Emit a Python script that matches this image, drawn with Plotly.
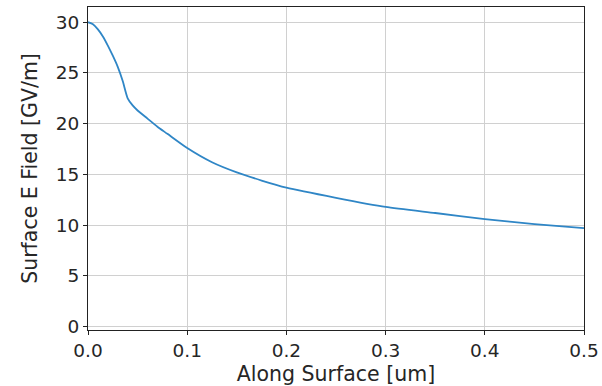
import plotly.graph_objects as go

along_surface_um = [0, 0.005, 0.01, 0.015, 0.02, 0.025, 0.03, 0.035, 0.04, 0.045, 0.05,
                    0.06, 0.07, 0.08, 0.1, 0.125, 0.15, 0.175, 0.2, 0.25, 0.3, 0.35,
                    0.4, 0.45, 0.5]
surface_e_field = [30.0, 29.8, 29.3, 28.6, 27.7, 26.7, 25.6, 24.2, 22.5, 21.8, 21.3,
                   20.5, 19.7, 19.0, 17.6, 16.2, 15.2, 14.4, 13.7, 12.7, 11.8, 11.2,
                   10.6, 10.1, 9.7]
x_ticks = [0.0, 0.1, 0.2, 0.3, 0.4, 0.5]
x_tick_labels = ["0.0", "0.1", "0.2", "0.3", "0.4", "0.5"]
y_ticks = [0, 5, 10, 15, 20, 25, 30]

tick_font = dict(family="DejaVu Sans", size=18.5, color="#262626")
title_font = dict(family="DejaVu Sans", size=20.5, color="#262626")

fig = go.Figure()
fig.add_trace(go.Scatter(x=along_surface_um, y=surface_e_field, mode="lines",
                         line=dict(color="#2f86c6", width=1.8, shape="spline", smoothing=0.6)))

fig.update_layout(
    width=602, height=386,
    margin=dict(l=88, r=18, t=7, b=56),
    paper_bgcolor="white", plot_bgcolor="white",
    showlegend=False, font=tick_font,
)
fig.update_xaxes(
    range=[0, 0.5], tickvals=x_ticks, ticktext=x_tick_labels, automargin=False,
    tickfont=tick_font,
    showgrid=True, gridcolor="#d0d0d0", gridwidth=1, zeroline=False,
    showline=True, linecolor="#222222", linewidth=1.2, mirror=True,
    ticks="outside", ticklen=4, tickcolor="#222222",
    title=dict(text="Along Surface [um]", standoff=11, font=title_font),
)
fig.update_yaxes(
    range=[-0.33, 31.5], tickvals=y_ticks, automargin=False,
    tickfont=tick_font,
    showgrid=True, gridcolor="#d0d0d0", gridwidth=1, zeroline=False,
    showline=True, linecolor="#222222", linewidth=1.2, mirror=True,
    ticks="outside", ticklen=4, tickcolor="#222222",
    title=dict(text="Surface E Field [GV/m]", standoff=12, font=title_font),
)

fig.write_html("out.html", config={"displayModeBar": False},
               post_script="document.body.style.margin='0';")
